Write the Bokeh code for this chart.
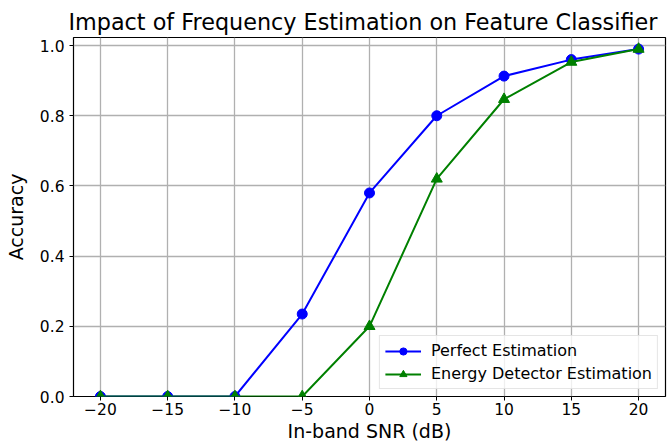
from bokeh.plotting import figure
from bokeh.models import Range1d, FixedTicker, Legend, LegendItem
from bokeh.embed import file_html
from bokeh.resources import INLINE

snr = [-20, -15, -10, -5, 0, 5, 10, 15, 20]
perfect = [0.0, 0.0, 0.0, 0.235, 0.58, 0.80, 0.913, 0.96, 0.99]
energy = [0.0, 0.0, 0.0, 0.0, 0.20, 0.62, 0.847, 0.953, 0.99]
x_ticks = [-20, -15, -10, -5, 0, 5, 10, 15, 20]
x_tick_labels = ["\u221220", "\u221215", "\u221210", "\u22125", "0", "5", "10", "15", "20"]
y_ticks = [0.0, 0.2, 0.4, 0.6, 0.8, 1.0]
y_tick_labels = ["0.0", "0.2", "0.4", "0.6", "0.8", "1.0"]

FONT = "DejaVu Sans"

p = figure(width=667, height=446, output_backend="svg", toolbar_location=None,
           x_range=Range1d(-22, 22), y_range=Range1d(0, 1.023),
           title="Impact of Frequency Estimation on Feature Classifier")
p.min_border_left = 73
p.min_border_top = 37
p.min_border_bottom = 50
p.min_border_right = 2

p.title.align = "left"
p.title.offset = -5
p.title.standoff = 6
p.title.text_font = FONT
p.title.text_font_size = "22.3px"
p.title.text_font_style = "normal"
p.title.text_color = "black"

p.outline_line_color = "black"
p.outline_line_width = 1.2
p.outline_line_alpha = 1.0

for ax in (p.xaxis[0], p.yaxis[0]):
    ax.axis_line_color = None
    ax.major_tick_line_color = "black"
    ax.major_tick_out = 4
    ax.major_tick_in = 0
    ax.minor_tick_line_color = None
    ax.major_label_text_font = FONT
    ax.major_label_text_font_size = "15.5px"
    ax.major_label_text_color = "black"
    ax.axis_label_text_font = FONT
    ax.axis_label_text_font_size = "19px"
    ax.axis_label_text_font_style = "normal"
    ax.axis_label_text_color = "black"

p.xaxis.ticker = FixedTicker(ticks=x_ticks)
p.xaxis.major_label_overrides = {t: l for t, l in zip(x_ticks, x_tick_labels)}
p.yaxis.ticker = FixedTicker(ticks=y_ticks)
p.yaxis.major_label_overrides = {t: l for t, l in zip(y_ticks, y_tick_labels)}
p.xaxis.axis_label = "In-band SNR (dB)"
p.yaxis.axis_label = "Accuracy"
p.xaxis.major_label_standoff = 2
p.xaxis.axis_label_standoff = 2
p.yaxis.axis_label_standoff = 10

p.xgrid.grid_line_color = "#b0b0b0"
p.ygrid.grid_line_color = "#b0b0b0"
p.xgrid.grid_line_width = 1.3
p.ygrid.grid_line_width = 1.3

l1 = p.line(snr, perfect, line_color="blue", line_width=2)
m1 = p.scatter(snr, perfect, marker="circle", size=10, fill_color="blue", line_color="blue")
l2 = p.line(snr, energy, line_color="green", line_width=2)
m2 = p.scatter(snr, energy, marker="triangle", size=11, fill_color="green", line_color="green")

legend = Legend(items=[LegendItem(label="Perfect Estimation", renderers=[l1, m1]),
                       LegendItem(label="Energy Detector Estimation", renderers=[l2, m2])],
                location="bottom_right")
legend.label_text_font = FONT
legend.label_text_font_size = "16px"
legend.label_text_color = "black"
legend.border_line_color = "#cccccc"
legend.border_line_width = 1
legend.background_fill_alpha = 0.8
legend.glyph_width = 36
legend.glyph_height = 18
legend.spacing = 4
legend.padding = 5
legend.margin = 7
legend.label_standoff = 10
p.add_layout(legend, "center")

open("out.html", "w").write(file_html(p, INLINE))
